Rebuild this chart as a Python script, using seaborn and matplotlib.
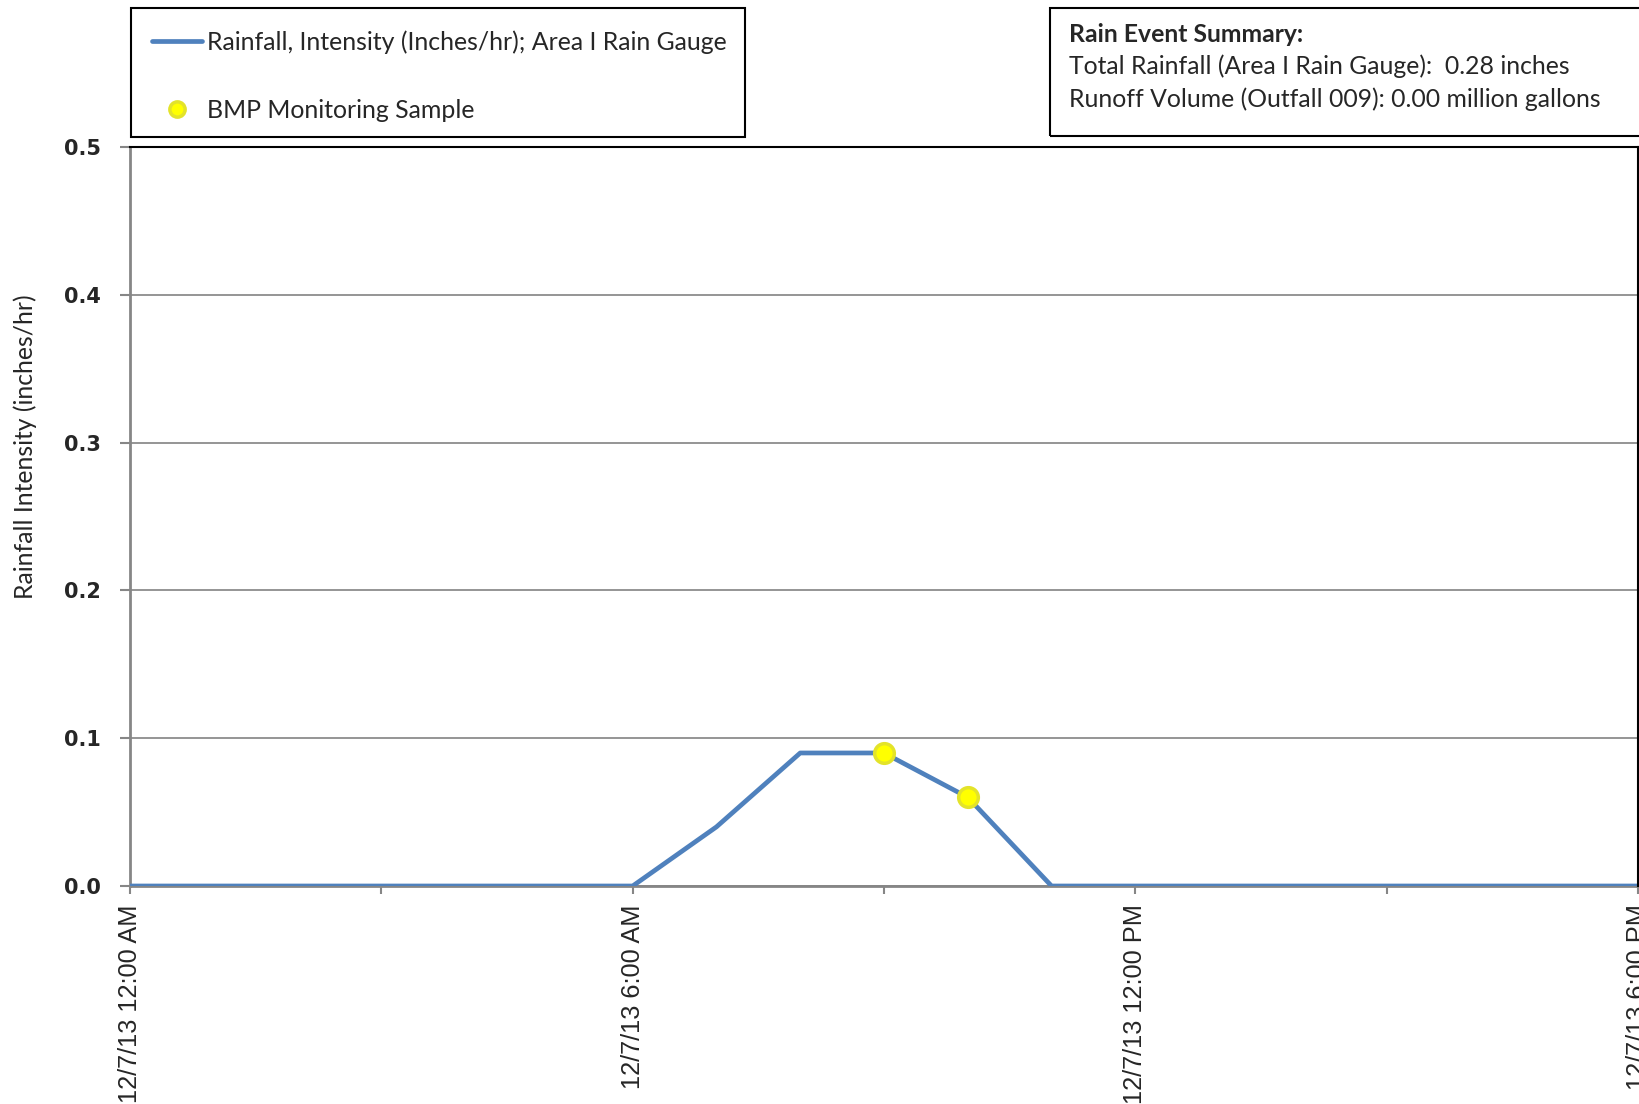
import matplotlib
matplotlib.use("Agg")
import matplotlib.pyplot as plt
import seaborn as sns
import pandas as pd
from matplotlib.lines import Line2D
from matplotlib.patches import Rectangle

# ---- data ----
hours = [0, 1, 2, 3, 4, 5, 6, 7, 8, 9, 10, 11, 12, 13, 14, 15, 16, 17, 18]
rain_intensity = [0, 0, 0, 0, 0, 0, 0, 0.04, 0.09, 0.09, 0.06, 0, 0, 0, 0, 0, 0, 0, 0]
sample_hours = [9, 10]
sample_values = [0.09, 0.06]
major_ticks = [0, 6, 12, 18]
minor_ticks = [3, 9, 15]
x_tick_labels = ["12/7/13 12:00 AM", "12/7/13 6:00 AM", "12/7/13 12:00 PM", "12/7/13 6:00 PM"]
y_ticks = [0.0, 0.1, 0.2, 0.3, 0.4, 0.5]
y_tick_labels = ["0.0", "0.1", "0.2", "0.3", "0.4", "0.5"]
summary_title = "Rain Event Summary:"
summary_lines = ["Total Rainfall (Area I Rain Gauge):  0.28 inches",
                 "Runoff Volume (Outfall 009): 0.00 million gallons"]
line_label = "Rainfall, Intensity (Inches/hr); Area I Rain Gauge"
sample_label = "BMP Monitoring Sample"

sns.set_style("white")
plt.rcParams["font.family"] = ["Lato", "DejaVu Sans"]

W, H = 1639, 1104
fig = plt.figure(figsize=(W / 100, H / 100), dpi=100)
ax = fig.add_axes([130 / W, (H - 886) / H, 1508 / W, 739 / H])

df = pd.DataFrame({"hour": hours, "rain": rain_intensity})
sdf = pd.DataFrame({"hour": sample_hours, "rain": sample_values})

LINE_C = "#4F81BD"
sns.lineplot(data=df, x="hour", y="rain", ax=ax, color=LINE_C, linewidth=3.4,
             zorder=3, legend=False)
sns.scatterplot(data=sdf, x="hour", y="rain", ax=ax, color="#FFFF00",
                edgecolor="#E3E32A", linewidth=2.5, s=200, zorder=4, legend=False)

ax.set_xlim(0, 18)
ax.set_ylim(0, 0.5)
ax.set_xticks(major_ticks)
ax.set_xticks(minor_ticks, minor=True)
ax.set_xticklabels(x_tick_labels, rotation=90, fontfamily="Liberation Sans", fontsize=18.3)
ax.set_yticks(y_ticks)
ax.set_yticklabels(y_tick_labels, fontfamily="DejaVu Sans", fontweight="bold", fontsize=15)
ax.tick_params(axis="x", which="major", direction="out", length=6, width=1.5,
               color="#868686", pad=7, bottom=True)
ax.tick_params(axis="x", which="minor", direction="out", length=6, width=1.5,
               color="#868686", bottom=True)
ax.tick_params(axis="y", direction="out", length=7, width=1.5, color="#868686",
               pad=14, left=True)
ax.grid(axis="y", color="#8C8C8C", linewidth=1.3)
ax.grid(axis="x", visible=False)
ax.set_axisbelow(True)
ax.set_xlabel("")
ax.set_ylabel("Rainfall Intensity (inches/hr)", fontsize=17.8, va="center")
ax.yaxis.set_label_coords((25 - 130) / 1508, (886 - 447) / 739)
for side in ["left", "bottom"]:
    ax.spines[side].set_color("#868686")
    ax.spines[side].set_linewidth(2)
for side in ["top", "right"]:
    ax.spines[side].set_color("black")
    ax.spines[side].set_linewidth(1.5)
    ax.spines[side].set_zorder(5)

# legend box
fig.patches.append(Rectangle((131 / W, 1 - 137 / H), (745 - 131) / W, (137 - 8) / H,
                             transform=fig.transFigure, fill=False, edgecolor="black",
                             linewidth=1.5))
handles = [Line2D([], [], color=LINE_C, linewidth=3.4),
           Line2D([], [], linestyle="none", marker="o", markersize=11,
                  markerfacecolor="#FFFF00", markeredgecolor="#E3E32A", markeredgewidth=2.5)]
fig.legend(handles, [line_label, sample_label], loc="upper left",
           bbox_to_anchor=(140 / W, 1 - 18 / H), frameon=False, fontsize=17.9,
           handlelength=2.0, handletextpad=0.2, labelspacing=1.8, borderpad=0)

# summary box
fig.patches.append(Rectangle((1050 / W, 1 - 136 / H), 700 / W, (136 - 8) / H,
                             transform=fig.transFigure, fill=False, edgecolor="black",
                             linewidth=1.5))
fig.text(1069 / W, 1 - 34 / H, summary_title, fontsize=17.8, fontweight="bold", va="center")
fig.text(1069 / W, 1 - 66 / H, summary_lines[0], fontsize=17.8, va="center")
fig.text(1069 / W, 1 - 99 / H, summary_lines[1], fontsize=17.8, va="center")

fig.savefig("out.png", dpi=100)
